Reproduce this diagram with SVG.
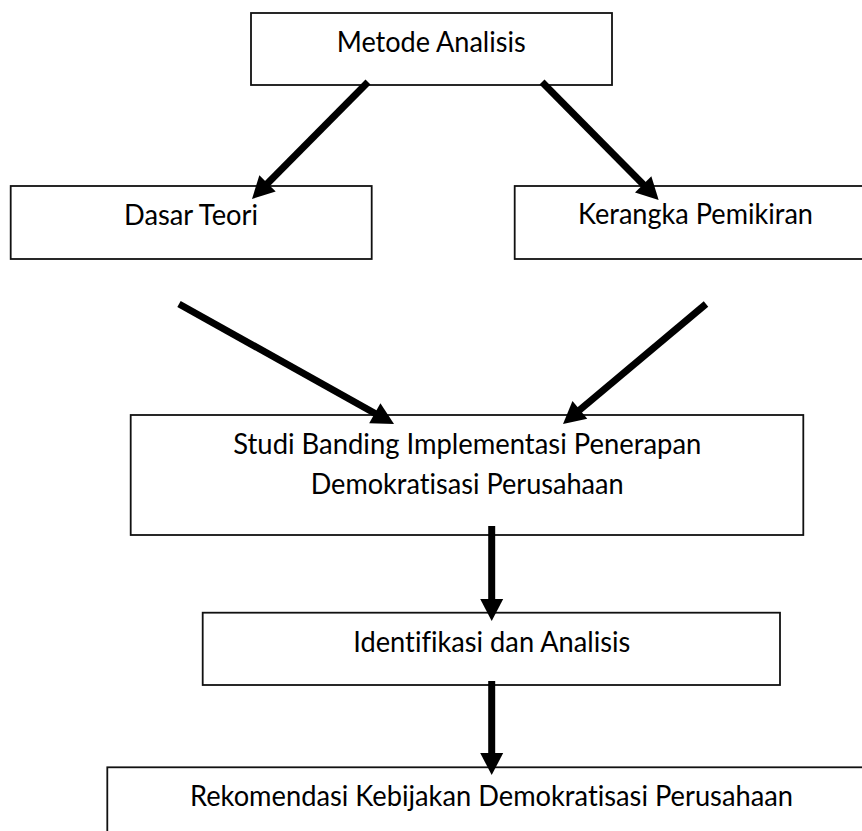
<svg xmlns="http://www.w3.org/2000/svg" width="862" height="831" viewBox="0 0 862 831">
  <style>
    .box { fill: #ffffff; stroke: #111111; stroke-width: 1.8; }
    .lbl { font-family: Lato, "Open Sans", "Liberation Sans", sans-serif; font-size: 28px; fill: #000000; font-variant-ligatures: no-common-ligatures; }
    .conn { stroke: #000000; stroke-width: 7; fill: none; stroke-linecap: butt; }
  </style>
  <defs>
    <marker id="ah" markerUnits="userSpaceOnUse" markerWidth="22" markerHeight="23" refX="4" refY="11.5" orient="auto" overflow="visible">
      <path d="M0,0 L22,11.5 L0,23 Z" fill="#000000"/>
    </marker>
  </defs>
  <rect x="0" y="0" width="862" height="831" fill="#ffffff"/>

  <g id="node-metode">
    <rect class="box" x="251" y="13" width="361" height="72"/>
    <text class="lbl" x="336.7" y="51.7" textLength="189" lengthAdjust="spacingAndGlyphs">Metode Analisis</text>
  </g>
  <g id="node-dasar">
    <rect class="box" x="10.7" y="186" width="361" height="73"/>
    <text class="lbl" x="124" y="225" textLength="134" lengthAdjust="spacingAndGlyphs">Dasar Teori</text>
  </g>
  <g id="node-kerangka">
    <rect class="box" x="514.7" y="186" width="380" height="73"/>
    <text class="lbl" x="578" y="224.3" textLength="235" lengthAdjust="spacingAndGlyphs">Kerangka Pemikiran</text>
  </g>
  <g id="node-studi">
    <rect class="box" x="130.7" y="415" width="672.6" height="120"/>
    <text class="lbl" x="233.3" y="454.3" textLength="468" lengthAdjust="spacingAndGlyphs">Studi Banding Implementasi Penerapan</text>
    <text class="lbl" x="310.7" y="494" textLength="313" lengthAdjust="spacingAndGlyphs">Demokratisasi Perusahaan</text>
  </g>
  <g id="node-identifikasi">
    <rect class="box" x="202.7" y="612.7" width="577.3" height="72.3"/>
    <text class="lbl" x="353.3" y="651.7" textLength="277" lengthAdjust="spacingAndGlyphs">Identifikasi dan Analisis</text>
  </g>
  <g id="node-rekomendasi">
    <rect class="box" x="107.3" y="767.3" width="780" height="90"/>
    <text class="lbl" x="190" y="805.7" textLength="603" lengthAdjust="spacingAndGlyphs">Rekomendasi Kebijakan Demokratisasi Perusahaan</text>
  </g>

  <g id="connectors">
    <line class="conn" x1="368" y1="82" x2="264.7" y2="186.2" marker-end="url(#ah)"/>
    <line class="conn" x1="542" y1="82" x2="646" y2="187.2" marker-end="url(#ah)"/>
    <line class="conn" x1="179" y1="304" x2="378.3" y2="415.2" marker-end="url(#ah)"/>
    <line class="conn" x1="706" y1="304" x2="576.8" y2="412.4" marker-end="url(#ah)"/>
    <line class="conn" x1="491.7" y1="526" x2="491.7" y2="603" marker-end="url(#ah)"/>
    <line class="conn" x1="491.7" y1="681" x2="491.7" y2="757" marker-end="url(#ah)"/>
  </g>
</svg>
